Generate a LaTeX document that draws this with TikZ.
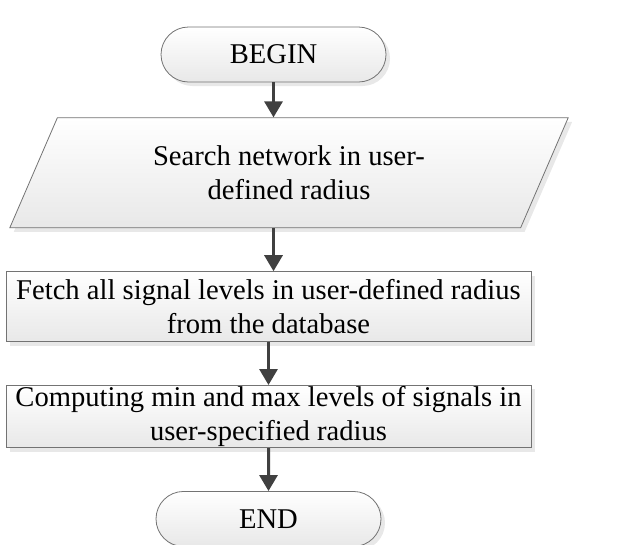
\documentclass[tikz,border=0pt]{standalone}
\usepackage{fontspec}
\setmainfont{Liberation Serif}
\usetikzlibrary{positioning, arrows.meta, shapes.geometric, shapes.misc, shadows}

\begin{document}
\begin{tikzpicture}[x=1pt, y=1pt,
      box/.style={draw=black!55, line width=0.8pt, top color=white, bottom color=black!9,
                  font=\fontsize{28.6}{34}\selectfont, inner sep=1pt, align=center,
                  drop shadow={shadow xshift=4pt, shadow yshift=-4pt, fill=black!18}},
      term/.style={box, rounded rectangle, minimum width=227pt, minimum height=55pt},
      io/.style={box, trapezium, trapezium left angle=63.4, trapezium right angle=116.6,
                 trapezium stretches=true, minimum width=560pt, minimum height=110pt},
      proc/.style={box, rectangle, minimum width=525pt},
      arr/.style={-{Triangle[length=16pt, width=18pt]}, line width=3pt, black!75},
      node distance=43pt,
]
\useasboundingbox (0,0) rectangle (626,-544);

\node[term] (begin) at (273.5,-54.5) {BEGIN};
\node[io, below=35pt of begin, xshift=15.5pt] (search)
      {Search network in user-\\defined radius};
\node[proc, minimum height=70pt, below=of search, xshift=-20.5pt] (fetch)
      {Fetch all signal levels in user-defined radius\\from the database};
\node[proc, minimum height=62pt, below=of fetch] (comp)
      {Computing min and max levels of signals in\\user-specified radius};
\node[term, below=of comp] (end) {END};

\draw[arr] (begin.south) -- (begin.south |- search.north);
\draw[arr] (begin.south |- search.south) -- (begin.south |- fetch.north);
\draw[arr] (fetch) -- (comp);
\draw[arr] (comp) -- (end);
\end{tikzpicture}
\end{document}
